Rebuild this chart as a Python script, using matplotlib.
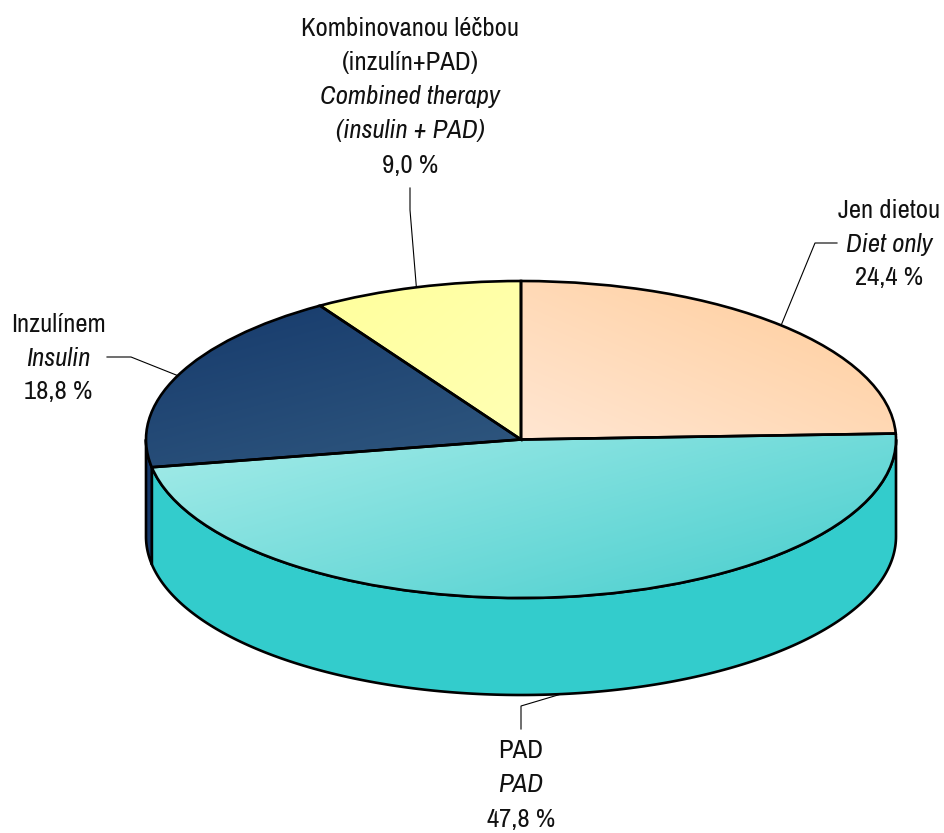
import numpy as np
import matplotlib
matplotlib.use('Agg')
import matplotlib.pyplot as plt
from matplotlib import font_manager as fm
from matplotlib.colors import LinearSegmentedColormap
from matplotlib.patches import Polygon

# uzke pismo jen kdyz je k dispozici, jinak mensi Liberation Sans
installed = {f.name for f in fm.fontManager.ttflist}
if 'Archivo Narrow' in installed:
    plt.rcParams['font.family'] = ['Archivo Narrow', 'Liberation Sans', 'DejaVu Sans']
    FS = 19.2
else:
    plt.rcParams['font.family'] = ['Liberation Sans', 'DejaVu Sans']
    FS = 16.0

# hodnoty z grafu, po smeru hodin od 12:00
names_cz = ['Jen dietou', 'PAD', 'Inzulínem', 'Kombinovanou léčbou\n(inzulín+PAD)']
names_en = ['Diet only', 'PAD', 'Insulin', 'Combined therapy\n(insulin + PAD)']
values = [24.4, 47.8, 18.8, 9.0]
value_labels = ['24,4 %', '47,8 %', '18,8 %', '9,0 %']

side_colors = ['#FFCC99', '#33CCCC', '#15396B', '#FFFF99']
grad_colors = [('#FFE6D2', '#FFCC99'), ('#A6ECE9', '#45CDCD'), ('#163A6C', '#30587F'), ('#FFFF9C', '#FFFFB4')]
grad_dirs = [(1, 1), (1, -0.8), (0.6, -1), (1, -1)]  # smer prechodu x, y

W, H = 944, 833
CX, CY, RX, RY, DEPTH = 521, 439.5, 375, 158.5, 97


def xd(px):
    return (px - CX) / RX


def yd(py):
    return (CY - py) / RY


fig = plt.figure(figsize=(W / 100, H / 100), dpi=100)
ax = fig.add_axes([0, 0, 1, 1])

wedges, _ = ax.pie(values, startangle=90, counterclock=False, colors=side_colors,
                   radius=1, wedgeprops={'edgecolor': 'black', 'linewidth': 1.9})
ax.set_aspect('auto')
ax.axis('off')

# uhly vysecu
bounds = 90 - np.cumsum([0] + values) * 3.6
depth = DEPTH / RY


def side(t1, t2, color):
    t = np.radians(np.linspace(t1, t2, 200))
    x = np.cos(t)
    y = np.sin(t)
    pts = np.vstack([np.column_stack([x, y]), np.column_stack([x, y - depth])[::-1]])
    ax.add_patch(Polygon(pts, closed=True, facecolor=color, edgecolor='black',
                         linewidth=1.9, joinstyle='round', zorder=1))


# bocni stena - jen predni cast
side(0, bounds[2], side_colors[1])
side(bounds[2], -180, side_colors[2])

for w, (c1, c2), (dx, dy) in zip(wedges, grad_colors, grad_dirs):
    box = w.get_path().get_extents()
    xx, yy = np.meshgrid(np.linspace(0, 1, 300), np.linspace(1, 0, 300))
    g = xx * dx + yy * dy
    g = (g - g.min()) / (g.max() - g.min())
    cmap = LinearSegmentedColormap.from_list('g', [c1, c2])
    im = ax.imshow(g, extent=(box.x0, box.x1, box.y0, box.y1), cmap=cmap, aspect='auto',
                   interpolation='bilinear', zorder=2)
    im.set_clip_path(w)
    w.set_facecolor('none')
    w.set_zorder(3)

ax.set_xlim(xd(0), xd(W))
ax.set_ylim(yd(H), yd(0))

# popisky - leader: od stredu vysece pres koleno k textu
mids = (bounds[:-1] + bounds[1:]) / 2
elbows = [(815, 243), (521, 706), (131, 357), (410, 210)]
ends = [(837, 243), (521, 729), (107, 357), (410, 188)]
for i, m in enumerate(mids):
    ax_, ay_ = np.cos(np.radians(m)), np.sin(np.radians(m))
    if ay_ < 0:
        ay_ -= depth
    ax.plot([ax_, xd(elbows[i][0]), xd(ends[i][0])], [ay_, yd(elbows[i][1]), yd(ends[i][1])],
            color='black', lw=0.8, zorder=4, solid_joinstyle='miter')

LH = 34
label_pos = [(889, 210), (521, 751), (58, 324), (410, 29)]
for i, (x, y) in enumerate(label_pos):
    rows = [(r, 'normal') for r in names_cz[i].split('\n')]
    rows += [(r, 'italic') for r in names_en[i].split('\n')]
    rows += [(value_labels[i], 'normal')]
    for j, (r, st) in enumerate(rows):
        ax.text(xd(x), yd(y + j * LH), r, ha='center', va='center', style=st,
                fontsize=FS, color='#111111', zorder=5)

fig.savefig('out.png', dpi=100, facecolor='white')
